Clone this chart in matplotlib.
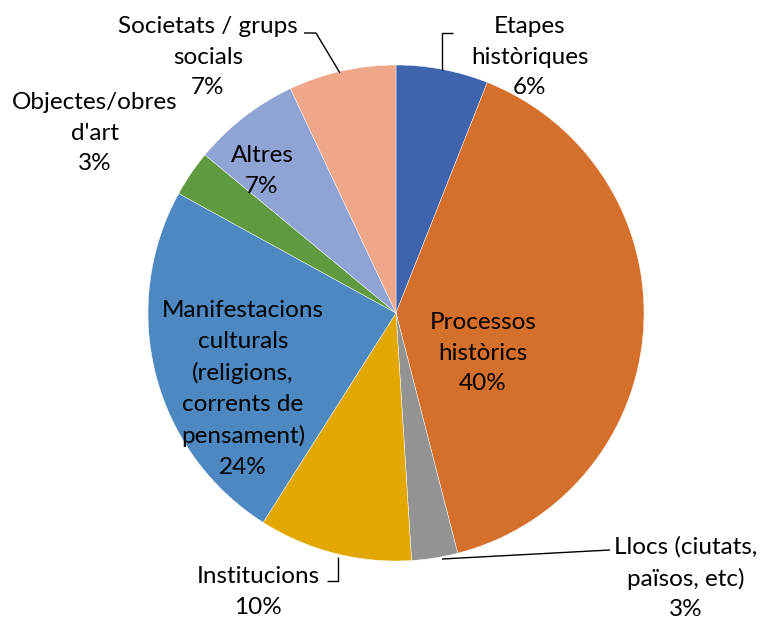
import matplotlib
matplotlib.use("Agg")
import matplotlib.pyplot as plt

plt.rcParams['font.family'] = ['Lato', 'DejaVu Sans']

# Data: share of each topic (clockwise from 12 o'clock)
categories = [
    "Etapes\nhistòriques",
    "Processos\nhistòrics",
    "Llocs (ciutats,\npaïsos, etc)",
    "Institucions",
    "Manifestacions\nculturals\n(religions,\ncorrents de\npensament)",
    "Objectes/obres\nd'art",
    "Altres",
    "Societats / grups\nsocials",
]
values = [6, 40, 3, 10, 24, 3, 7, 7]

colors = ["#3D64AD", "#D5702C", "#939393", "#E2A800",
          "#4E88C0", "#5F9A40", "#8FA3D5", "#EFA78A"]

W, H = 769, 619
fig = plt.figure(figsize=(W / 100, H / 100), dpi=100)
ax = fig.add_axes([0, 0, 1, 1])

def py(y):
    # pixel row (top-down) to axes y (bottom-up)
    return H - y

center = (396, py(313))
radius = 248

ax.pie(values, colors=colors, startangle=90, counterclock=False,
       center=center, radius=radius, frame=True,
       wedgeprops=dict(edgecolor="white", linewidth=0.3))
ax.set_xlim(0, W)
ax.set_ylim(0, H)
ax.axis("off")

# label block centres (pixels)
label_pos = [(530, 57), (483, 353), (686, 578), (258, 592),
             (243, 389), (95, 133), (262, 171), (208, 57)]

for name, val, (x, y) in zip(categories, values, label_pos):
    ax.text(x, py(y), f"{name}\n{val}%", ha="center", va="center",
            fontsize=17.5, linespacing=1.56, color="black")

# leader lines for the outside labels (pixels)
leaders = [
    [(453, 33), (442, 33), (442, 70)],
    [(304, 33), (316, 33), (340, 73)],
    [(610, 550), (442, 559)],
    [(327, 581), (338, 581), (338, 557)],
]
for pts in leaders:
    xs = [p[0] for p in pts]
    ys = [py(p[1]) for p in pts]
    ax.plot(xs, ys, color="black", linewidth=1.0, solid_capstyle="butt")

fig.savefig("out.png", dpi=100)
